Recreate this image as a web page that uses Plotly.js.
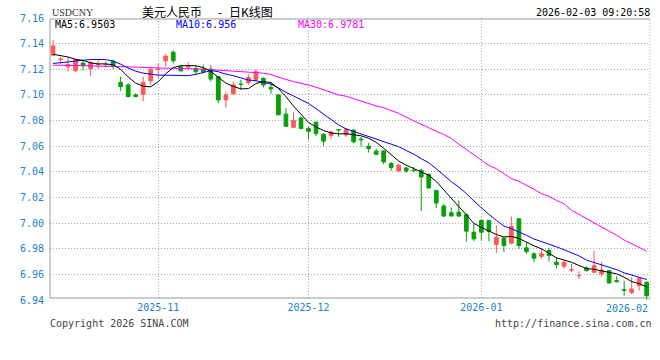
<!DOCTYPE html>
<html><head><meta charset="utf-8">
<script src="https://cdn.plot.ly/plotly-3.0.1.min.js"></script>
<style>html,body{margin:0;padding:0;background:#fff;}#chart{width:660px;height:360px;}</style>
</head><body><div id="chart"></div>
<script>
const dates = [
'2025-10-14','2025-10-15','2025-10-16','2025-10-17','2025-10-20','2025-10-21','2025-10-22','2025-10-23','2025-10-24','2025-10-27',
'2025-10-28','2025-10-29','2025-10-30','2025-10-31','2025-11-03','2025-11-04','2025-11-05','2025-11-06','2025-11-07','2025-11-10',
'2025-11-11','2025-11-12','2025-11-13','2025-11-14','2025-11-17','2025-11-18','2025-11-19','2025-11-20','2025-11-21','2025-11-24',
'2025-11-25','2025-11-26','2025-11-27','2025-11-28','2025-12-01','2025-12-02','2025-12-03','2025-12-04','2025-12-05','2025-12-08',
'2025-12-09','2025-12-10','2025-12-11','2025-12-12','2025-12-15','2025-12-16','2025-12-17','2025-12-18','2025-12-19','2025-12-22',
'2025-12-23','2025-12-24','2025-12-25','2025-12-26','2025-12-29','2025-12-30','2025-12-31','2026-01-02','2026-01-05','2026-01-06',
'2026-01-07','2026-01-08','2026-01-09','2026-01-12','2026-01-13','2026-01-14','2026-01-15','2026-01-16','2026-01-19','2026-01-20',
'2026-01-21','2026-01-22','2026-01-23','2026-01-26','2026-01-27','2026-01-28','2026-01-29','2026-01-30','2026-02-02','2026-02-03'];

const openP = [
7.1310,7.1275,7.1219,7.1188,7.1248,7.1204,7.1236,7.1236,7.1263,7.1098,
7.1078,7.1000,7.1005,7.1111,7.1198,7.1266,7.1333,7.1219,7.1218,7.1207,
7.1199,7.1201,7.1142,7.0961,7.1008,7.1084,7.1096,7.1121,7.1129,7.1059,
7.1000,7.0850,7.0747,7.0820,7.0737,7.0786,7.0691,7.0683,7.0730,7.0688,
7.0725,7.0655,7.0600,7.0561,7.0563,7.0464,7.0407,7.0430,7.0413,7.0412,
7.0381,7.0255,7.0133,7.0081,7.0086,7.0065,6.9929,7.0021,7.0021,6.9833,
6.9882,6.9843,7.0034,6.9807,6.9760,6.9741,6.9786,6.9694,6.9663,6.9634,
6.9589,6.9650,6.9616,6.9603,6.9629,6.9551,6.9480,6.9459,6.9512,6.9538];
const highP = [
7.1431,7.1297,7.1292,7.1284,7.1271,7.1263,7.1271,7.1266,7.1276,7.1142,
7.1090,7.1013,7.1142,7.1207,7.1245,7.1323,7.1348,7.1232,7.1258,7.1232,
7.1237,7.1232,7.1145,7.1026,7.1103,7.1116,7.1160,7.1199,7.1137,7.1096,
7.1005,7.0897,7.0863,7.0827,7.0755,7.0794,7.0703,7.0721,7.0734,7.0739,
7.0733,7.0673,7.0626,7.0582,7.0569,7.0477,7.0464,7.0438,7.0438,7.0425,
7.0386,7.0258,7.0151,7.0120,7.0177,7.0073,6.9994,7.0028,7.0024,6.9981,
6.9890,7.0052,7.0036,6.9851,6.9773,6.9799,6.9807,6.9733,6.9715,6.9681,
6.9624,6.9663,6.9786,6.9694,6.9634,6.9585,6.9551,6.9577,6.9577,6.9546];
const lowP = [
7.1305,7.1245,7.1181,7.1181,7.1194,7.1147,7.1201,7.1214,7.1201,7.1031,
7.0979,7.0982,7.0949,7.1078,7.1129,7.1219,7.1245,7.1181,7.1194,7.1160,
7.1168,7.1103,7.0936,7.0902,7.1000,7.1039,7.1078,7.1103,7.1059,7.1008,
7.0840,7.0750,7.0742,7.0734,7.0652,7.0678,7.0605,7.0652,7.0672,7.0672,
7.0621,7.0595,7.0550,7.0530,7.0459,7.0407,7.0399,7.0391,7.0394,7.0094,
7.0269,7.0117,7.0047,7.0053,7.0047,6.9856,6.9859,6.9864,6.9859,6.9767,
6.9773,6.9835,6.9799,6.9760,6.9694,6.9720,6.9700,6.9647,6.9642,6.9616,
6.9564,6.9624,6.9611,6.9582,6.9530,6.9538,6.9433,6.9446,6.9473,6.9402];
const closeP = [
7.1382,7.1278,7.1237,7.1276,7.1227,7.1253,7.1238,7.1238,7.1225,7.1065,
7.0987,7.0987,7.1098,7.1201,7.1200,7.1302,7.1266,7.1188,7.1220,7.1181,
7.1181,7.1124,7.0961,7.1000,7.1078,7.1082,7.1137,7.1181,7.1078,7.1047,
7.0845,7.0755,7.0801,7.0737,7.0716,7.0698,7.0639,7.0711,7.0728,7.0734,
7.0634,7.0650,7.0582,7.0537,7.0477,7.0433,7.0451,7.0407,7.0410,7.0360,
7.0274,7.0156,7.0055,7.0055,7.0055,6.9937,6.9877,6.9929,6.9934,6.9890,
6.9825,6.9974,6.9825,6.9778,6.9726,6.9760,6.9747,6.9676,6.9694,6.9636,
6.9591,6.9629,6.9668,6.9634,6.9533,6.9543,6.9475,6.9485,6.9569,6.9433];

const ma5 = [
7.1317,7.1309,7.1296,7.1278,7.1270,7.1250,7.1242,7.1242,7.1235,7.1199,
7.1140,7.1092,7.1068,7.1063,7.1103,7.1165,7.1213,7.1228,7.1230,7.1228,
7.1212,7.1183,7.1137,7.1092,7.1066,7.1047,7.1049,7.1089,7.1103,7.1097,
7.1050,7.0986,7.0913,7.0846,7.0785,7.0750,7.0722,7.0703,7.0696,7.0697,
7.0687,7.0681,7.0662,7.0630,7.0584,7.0531,7.0484,7.0452,7.0427,7.0404,
7.0373,7.0325,7.0259,7.0187,7.0128,7.0065,6.9998,6.9966,6.9939,6.9911,
6.9892,6.9896,6.9880,6.9850,6.9823,6.9799,6.9763,6.9729,6.9712,6.9694,
6.9669,6.9646,6.9639,6.9629,6.9614,6.9604,6.9578,6.9544,6.9527,6.9503];
const ma10 = [
7.1245,7.1250,7.1255,7.1263,7.1270,7.1276,7.1276,7.1276,7.1263,7.1240,
7.1210,7.1185,7.1170,7.1160,7.1154,7.1154,7.1154,7.1150,7.1150,7.1160,
7.1177,7.1190,7.1181,7.1162,7.1150,7.1132,7.1116,7.1111,7.1098,7.1084,
7.1055,7.1020,7.0992,7.0964,7.0933,7.0893,7.0850,7.0803,7.0766,7.0735,
7.0715,7.0701,7.0681,7.0660,7.0638,7.0616,7.0596,7.0566,7.0538,7.0503,
7.0471,7.0424,7.0372,7.0323,7.0280,7.0231,7.0173,7.0119,7.0068,7.0021,
6.9977,6.9956,6.9933,6.9905,6.9876,6.9856,6.9840,6.9815,6.9792,6.9767,
6.9744,6.9711,6.9693,6.9678,6.9659,6.9637,6.9612,6.9593,6.9578,6.9560];
const ma30 = [
7.1232,7.1232,7.1232,7.1229,7.1229,7.1226,7.1226,7.1224,7.1224,7.1221,
7.1219,7.1216,7.1213,7.1211,7.1208,7.1208,7.1208,7.1206,7.1206,7.1206,
7.1203,7.1198,7.1193,7.1190,7.1187,7.1185,7.1180,7.1174,7.1169,7.1160,
7.1138,7.1118,7.1104,7.1090,7.1078,7.1060,7.1040,7.1018,7.1000,7.0990,
7.0970,7.0952,7.0932,7.0914,7.0900,7.0878,7.0856,7.0826,7.0798,7.0768,
7.0741,7.0716,7.0692,7.0660,7.0616,7.0573,7.0529,7.0492,7.0450,7.0424,
7.0384,7.0347,7.0326,7.0298,7.0264,7.0230,7.0208,7.0177,7.0150,7.0100,
7.0068,7.0034,7.0003,6.9970,6.9937,6.9905,6.9868,6.9842,6.9811,6.9781];

const yTicks = [6.94,6.96,6.98,7.00,7.02,7.04,7.06,7.08,7.10,7.12,7.14,7.16];
const monthTickDates = ['2025-11-03','2025-12-01','2026-01-02'];
const monthTickLabels = ['2025-11','2025-12','2026-01'];
const lastMonthLabel = '2026-02';
const titleParts = ['美元人民币','-','日K线图'];
const symbol = 'USDCNY';
const stamp = '2026-02-03 09:20:58';
const maLabels = ['MA5:6.9503','MA10:6.956','MA30:6.9781'];
const footLeft = 'Copyright 2026 SINA.COM';
const footRight = 'http://finance.sina.com.cn';

const RED = '#ff5858', GREEN = '#079f07', BLUE_T = '#1c7fd0';
const mono = 'DejaVu Sans Mono';
const H = 282; // plot height px
const py = p => (300 - p) / H;       // pixel y -> paper
const px = p => (p - 50) / 600;      // pixel x -> paper

const traces = [
  {type:'candlestick', x:dates, open:openP, high:highP, low:lowP, close:closeP,
   increasing:{line:{color:RED,width:1}, fillcolor:RED},
   decreasing:{line:{color:GREEN,width:1}, fillcolor:GREEN},
   whiskerwidth:0, hoverinfo:'skip'},
  {type:'scatter', mode:'lines', x:dates, y:ma30, line:{color:'#ff00ff',width:1}, hoverinfo:'skip'},
  {type:'scatter', mode:'lines', x:dates, y:ma10, line:{color:'#0000ff',width:1}, hoverinfo:'skip'},
  {type:'scatter', mode:'lines', x:dates, y:ma5, line:{color:'#000000',width:1}, hoverinfo:'skip'}
];

const gridDash = '1px,2px';
const layout = {
  width:660, height:360,
  margin:{l:50, r:10, t:18, b:60, pad:0},
  paper_bgcolor:'#ffffff', plot_bgcolor:'#ffffff',
  showlegend:false, hovermode:false, boxgap:0.3,
  xaxis:{type:'category', range:[-0.4, 79.44], tickmode:'array',
    tickvals:monthTickDates, ticktext:monthTickLabels,
    showgrid:true, gridcolor:'#a8a8a8', griddash:gridDash, gridwidth:1,
    zeroline:false, showline:false, ticks:'',
    tickfont:{family:mono, size:10, color:BLUE_T},
    rangeslider:{visible:false}, fixedrange:true},
  yaxis:{range:[6.94,7.16], tickmode:'array', tickvals:yTicks, tickformat:'.2f',
    showgrid:true, gridcolor:'#a8a8a8', griddash:gridDash, gridwidth:1,
    zeroline:false, showline:false, ticks:'outside', ticklen:3, tickcolor:'rgba(0,0,0,0)',
    tickfont:{family:mono, size:10, color:BLUE_T}, fixedrange:true},
  shapes:[
    {type:'line', xref:'paper', yref:'paper', x0:0, x1:0, y0:py(298), y1:py(19), line:{color:'#999',width:1}},
    {type:'line', xref:'paper', yref:'paper', x0:0, x1:1, y0:py(19), y1:py(19), line:{color:'#999',width:1}},
    {type:'line', xref:'paper', yref:'paper', x0:0, x1:1, y0:py(298), y1:py(298), line:{color:'#999',width:1}},
    {type:'line', xref:'paper', yref:'paper', x0:1, x1:1, y0:0, y1:py(19), line:{color:'#a8a8a8',width:1,dash:gridDash}}
  ],
  annotations:[
    {xref:'paper', yref:'paper', x:px(50), y:py(12), xanchor:'left', yanchor:'middle', showarrow:false,
     text:symbol, font:{family:'Liberation Serif', size:10, color:'#333'}},
    {xref:'paper', yref:'paper', x:px(140), y:py(11.5), xanchor:'left', yanchor:'middle', showarrow:false,
     text:titleParts[0], font:{family:'Noto Sans CJK SC', size:12, color:'#000'}},
    {xref:'paper', yref:'paper', x:px(220), y:py(11.5), xanchor:'center', yanchor:'middle', showarrow:false,
     text:titleParts[1], font:{family:'Noto Sans CJK SC', size:12, color:'#000'}},
    {xref:'paper', yref:'paper', x:px(227), y:py(11.5), xanchor:'left', yanchor:'middle', showarrow:false,
     text:titleParts[2], font:{family:'Noto Sans CJK SC', size:12, color:'#000'}},
    {xref:'paper', yref:'paper', x:px(652), y:py(12), xanchor:'right', yanchor:'middle', showarrow:false,
     text:stamp, font:{family:mono, size:10, color:'#000'}},
    {xref:'paper', yref:'paper', x:px(53), y:py(24.5), xanchor:'left', yanchor:'middle', showarrow:false,
     text:maLabels[0], font:{family:mono, size:10, color:'#000'}},
    {xref:'paper', yref:'paper', x:px(174), y:py(24.5), xanchor:'left', yanchor:'middle', showarrow:false,
     text:maLabels[1], font:{family:mono, size:10, color:'#0000ff'}},
    {xref:'paper', yref:'paper', x:px(296), y:py(24.5), xanchor:'left', yanchor:'middle', showarrow:false,
     text:maLabels[2], font:{family:mono, size:10, color:'#ff00ff'}},
    {xref:'paper', yref:'paper', x:px(650), y:py(308), xanchor:'right', yanchor:'middle', showarrow:false,
     text:lastMonthLabel, font:{family:mono, size:10, color:BLUE_T}},
    {xref:'paper', yref:'paper', x:px(48), y:py(323), xanchor:'left', yanchor:'middle', showarrow:false,
     text:footLeft, font:{family:mono, size:10, color:'#444'}},
    {xref:'paper', yref:'paper', x:px(654), y:py(323), xanchor:'right', yanchor:'middle', showarrow:false,
     text:footRight, font:{family:mono, size:10, color:'#444'}}
  ]
};
Plotly.newPlot('chart', traces, layout, {staticPlot:true, displayModeBar:false});
</script></body></html>
